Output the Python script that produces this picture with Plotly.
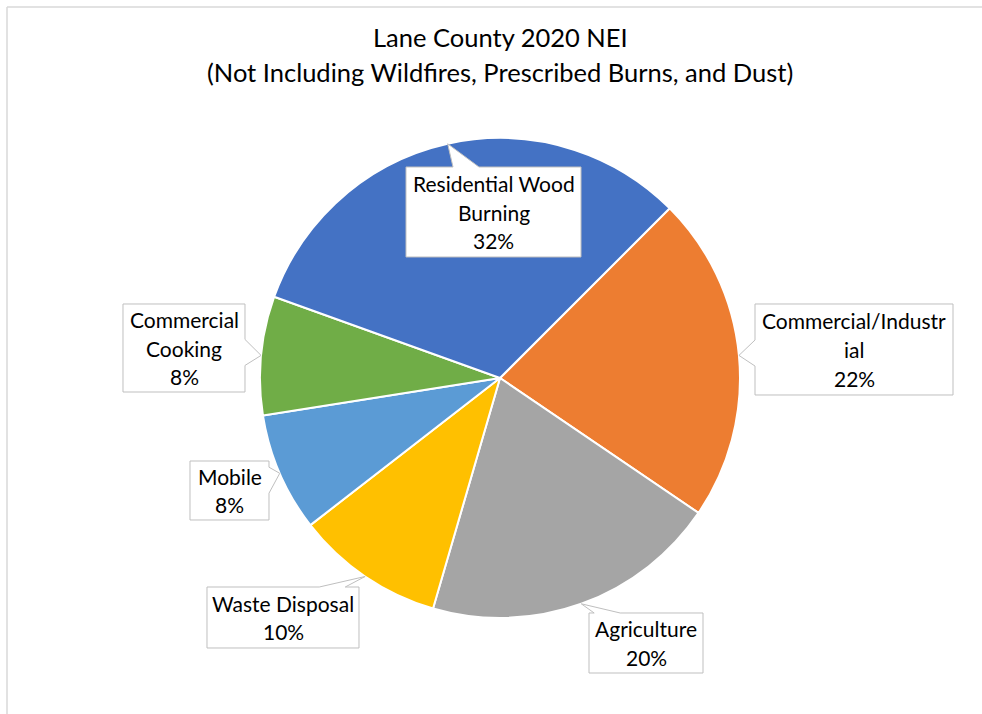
import math
import plotly.graph_objects as go

# ---- data ----
categories = ["Commercial/Industrial", "Agriculture", "Waste Disposal",
              "Mobile", "Commercial Cooking", "Residential Wood Burning"]
values = [22, 20, 10, 8, 8, 32]
label_lines = [["Commercial/Industr", "ial"], ["Agriculture"], ["Waste Disposal"],
               ["Mobile"], ["Commercial", "Cooking"], ["Residential Wood", "Burning"]]
colors = ["#ED7D31", "#A5A5A5", "#FFC000", "#5B9BD5", "#70AD47", "#4472C4"]
title_lines = ["Lane County 2020 NEI",
               "(Not Including Wildfires, Prescribed Burns, and Dust)"]

# ---- layout geometry (pixels) ----
W, H = 982, 714
CX, CY, R = 500, 378, 240
ROTATION = 45
# callout boxes: left, top, right, bottom
boxes = [(755, 304, 953, 395), (589, 613, 703, 673), (207, 587, 359, 648),
         (190, 461, 269, 520), (123, 304, 245, 392), (406, 167, 581, 257)]
FONT = "Lato"
TXT = "#000000"
LINE_H = 28.5


def px(x, y):
    return x / W, 1 - y / H


fig = go.Figure(go.Pie(
    labels=categories, values=values, sort=False, direction="clockwise",
    rotation=ROTATION, textinfo="none", showlegend=False,
    marker=dict(colors=colors, line=dict(color="white", width=2)),
    domain=dict(x=[(CX - R) / W, (CX + R) / W], y=[1 - (CY + R) / H, 1 - (CY - R) / H]),
))

total = sum(values)
shapes = []
annotations = []
cum = 0
for i, v in enumerate(values):
    mid = math.radians(ROTATION + (cum + v / 2) / total * 360)
    cum += v
    tx, ty = CX + R * math.sin(mid), CY - R * math.cos(mid)
    l, t, r, b = boxes[i]
    bcx, bcy = (l + r) / 2, (t + b) / 2
    hw = 13
    if ty < t:
        side = "top"
    elif ty > b:
        side = "bottom"
    elif tx < l:
        side = "left"
    else:
        side = "right"
    pts = []
    pts.append((l, t))
    if side == "top":
        c = min(max(tx + 0.4 * (bcx - tx), l + hw), r - hw)
        pts += [(c - hw, t), (tx, ty), (c + hw, t)]
    pts.append((r, t))
    if side == "right":
        c = min(max(ty + 0.4 * (bcy - ty), t + hw), b - hw)
        pts += [(r, c - hw), (tx, ty), (r, c + hw)]
    pts.append((r, b))
    if side == "bottom":
        c = min(max(tx + 0.4 * (bcx - tx), l + hw), r - hw)
        pts += [(c + hw, b), (tx, ty), (c - hw, b)]
    pts.append((l, b))
    if side == "left":
        c = min(max(ty + 0.4 * (bcy - ty), t + hw), b - hw)
        pts += [(l, c + hw), (tx, ty), (l, c - hw)]
    path = "M " + " L ".join("%.5f,%.5f" % px(x, y) for x, y in pts) + " Z"
    shapes.append(dict(type="path", xref="paper", yref="paper", path=path,
                       fillcolor="white", line=dict(color="#BFBFBF", width=1),
                       layer="above"))
    pct = "%d%%" % round(v / total * 100)
    lines = label_lines[i] + [pct]
    n = len(lines)
    for k, s in enumerate(lines):
        yy = bcy + (k - (n - 1) / 2) * LINE_H
        X, Y = px(bcx, yy)
        annotations.append(dict(text=s, x=X, y=Y, xref="paper", yref="paper",
                                xanchor="center", yanchor="middle", showarrow=False,
                                font=dict(family=FONT, size=21, color=TXT)))

for s, yy in zip(title_lines, [37, 72]):
    X, Y = px(500, yy)
    annotations.append(dict(text=s, x=X, y=Y, xref="paper", yref="paper",
                            xanchor="center", yanchor="middle", showarrow=False,
                            font=dict(family=FONT, size=25.5, color=TXT)))

# chart border (light gray)
bx0, by0 = px(7, 7)
shapes.append(dict(type="line", xref="paper", yref="paper", x0=bx0, y0=by0, x1=1.01, y1=by0,
                   line=dict(color="#D9D9D9", width=1.5)))
shapes.append(dict(type="line", xref="paper", yref="paper", x0=bx0, y0=by0, x1=bx0, y1=-0.01,
                   line=dict(color="#D9D9D9", width=1.5)))

fig.update_layout(width=W, height=H, margin=dict(l=0, r=0, t=0, b=0),
                  paper_bgcolor="white", plot_bgcolor="white",
                  shapes=shapes, annotations=annotations)
fig.write_html("out.html")
